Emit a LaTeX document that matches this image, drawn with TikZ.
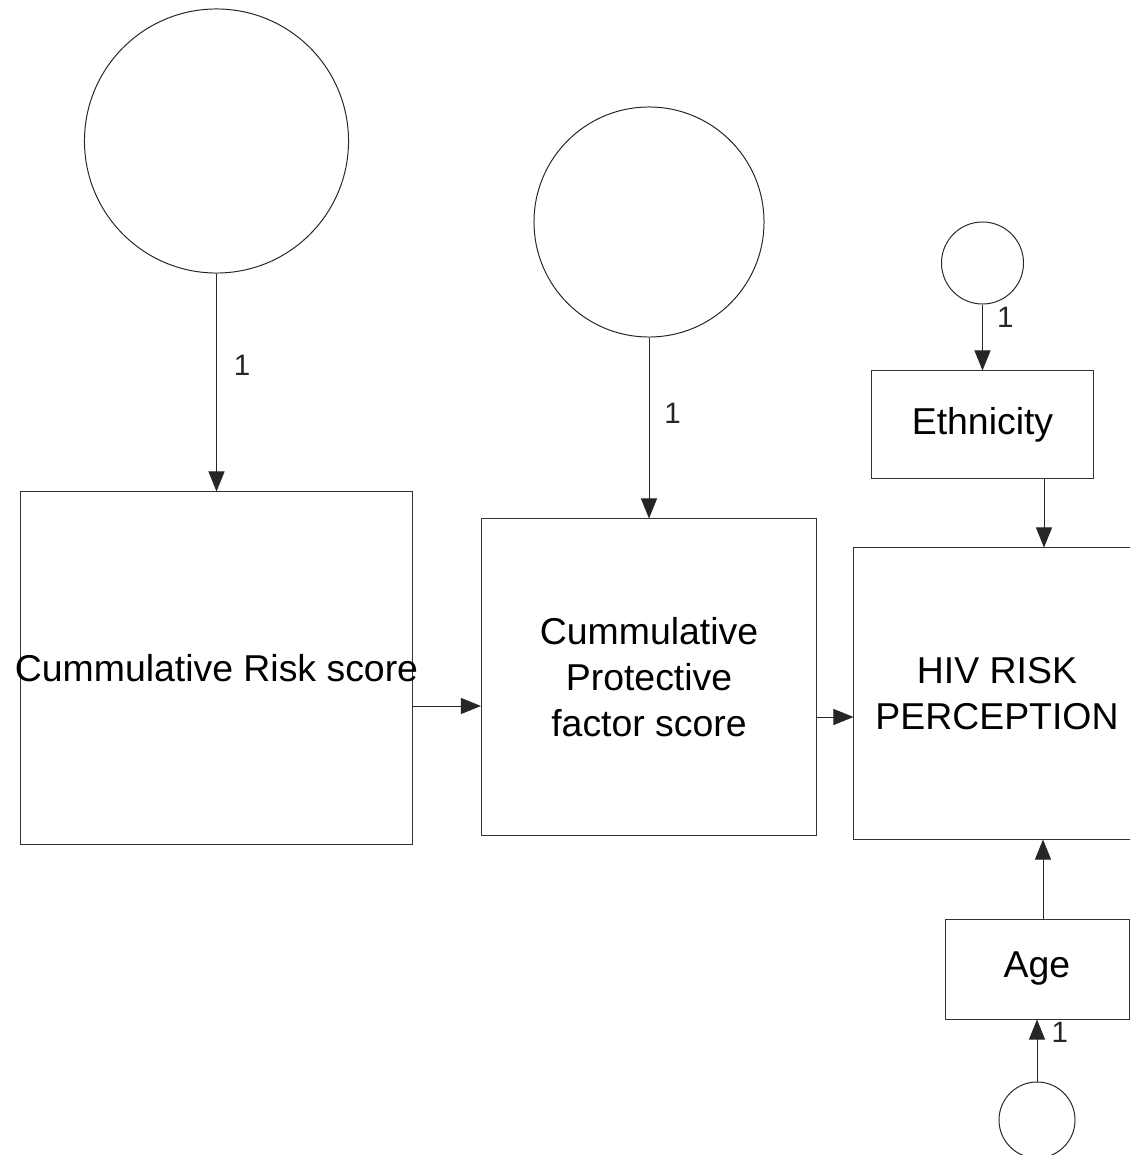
\documentclass[tikz,border=0pt]{standalone}
\usepackage{fontspec}
\setmainfont{Liberation Sans}
\usetikzlibrary{arrows.meta,positioning,calc}
\tikzset{
  latent/.style={draw=black!85, circle, line width=0.7pt, inner sep=0pt},
  kasten/.style={draw=black!80, line width=0.7pt, align=center,
                 font=\fontsize{26.6}{32.6}\selectfont, inner sep=0pt},
  pfeil/.style={-{Triangle[length=0.5cm, width=0.4cm]}, line width=0.7pt, black!85},
  eins/.style={font=\fontsize{21}{24}\selectfont, anchor=west, inner sep=0pt},
}

\begin{document}
\begin{tikzpicture}[x=0.025cm, y=-0.025cm]
  \useasboundingbox (0,0) rectangle (1130,1155);
  \clip (0,0) rectangle (1130,1155);

  % Latente Variablen
  \node[latent, minimum size=6.6cm]  (lat1) at (216.5,141) {};
  \node[latent, minimum size=5.75cm] (lat2) at (649,222) {};
  \node[latent, minimum size=2.05cm] (lat3) at (982.5,263) {};
  \node[latent, minimum size=1.9cm]  (lat4) at (1037,1120) {};

  % Beobachtete Variablen
  \node[kasten, minimum width=9.775cm, minimum height=8.8cm,
        label={[font=\fontsize{26.6}{32.6}\selectfont]center:Cummulative Risk score}]
        (risk) at (216.5,668) {};
  \node[kasten, minimum width=8.375cm, minimum height=7.9cm] (prot) at (649,677)
        {Cummulative\\Protective\\factor score};
  \node[kasten, minimum width=7.15cm, minimum height=7.275cm] (hiv) at (997,693.5)
        {HIV RISK\\PERCEPTION};
  \node[kasten, minimum width=5.55cm, minimum height=2.675cm] (eth) at (982.5,424.5) {Ethnicity};
  \node[kasten, minimum width=4.6cm, minimum height=2.5cm] (age) at (1037,969) {Age};

  % Pfade
  \draw[pfeil] (lat1.south) -- node[eins, pos=0.42, right=0.42cm] {1} (risk.north);
  \draw[pfeil] (lat2.south) -- node[eins, pos=0.42, right=0.37cm] {1} (prot.north);
  \draw[pfeil] (lat3.south) -- node[eins, pos=0.2, right=0.35cm] {1} (eth.north);
  \draw[pfeil] (lat4.north) -- node[eins, pos=0.8, right=0.35cm] {1} (age.south);

  \coordinate (riskout) at ($(risk.east)+(0,38)$);
  \coordinate (protout) at ($(prot.east)+(0,40)$);
  \coordinate (ethout) at ($(eth.south)+(61.5,0)$);
  \coordinate (ageout) at ($(age.north)+(6,0)$);
  \draw[pfeil] (riskout) -- (riskout -| prot.west);
  \draw[pfeil] (protout) -- (protout -| hiv.west);
  \draw[pfeil] (ethout) -- (ethout |- hiv.north);
  \draw[pfeil] (ageout) -- (ageout |- hiv.south);
\end{tikzpicture}
\end{document}
